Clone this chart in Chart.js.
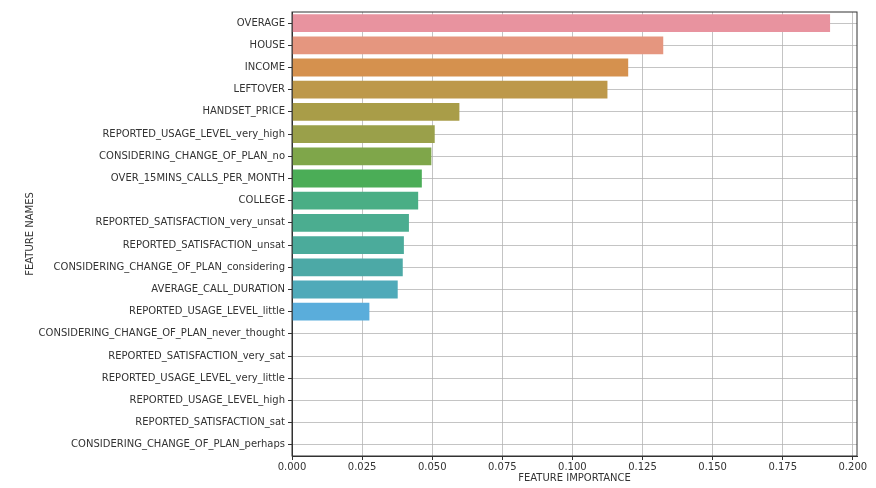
<!DOCTYPE html>
<html>
<head>
<meta charset="utf-8">
<script src="https://cdn.jsdelivr.net/npm/chart.js@4"></script>
<style>
  html, body { margin: 0; padding: 0; background: #fff; }
  #wrap { width: 876px; height: 488px; }
</style>
</head>
<body>
<div id="wrap"><canvas id="importanceChart"></canvas></div>
<script>
// feature importance
const features = [
    'OVERAGE', 'HOUSE', 'INCOME', 'LEFTOVER', 'HANDSET_PRICE',
    'REPORTED_USAGE_LEVEL_very_high', 'CONSIDERING_CHANGE_OF_PLAN_no',
    'OVER_15MINS_CALLS_PER_MONTH', 'COLLEGE', 'REPORTED_SATISFACTION_very_unsat',
    'REPORTED_SATISFACTION_unsat', 'CONSIDERING_CHANGE_OF_PLAN_considering',
    'AVERAGE_CALL_DURATION', 'REPORTED_USAGE_LEVEL_little',
    'CONSIDERING_CHANGE_OF_PLAN_never_thought', 'REPORTED_SATISFACTION_very_sat',
    'REPORTED_USAGE_LEVEL_very_little', 'REPORTED_USAGE_LEVEL_high',
    'REPORTED_SATISFACTION_sat', 'CONSIDERING_CHANGE_OF_PLAN_perhaps'
];
const importance = [
    0.1919, 0.1324, 0.1199, 0.1125, 0.0597,
    0.0509, 0.0497, 0.0463, 0.0450, 0.0417,
    0.0399, 0.0395, 0.0377, 0.0276,
    0, 0, 0, 0, 0, 0
];
const barColors = [
    '#e8939f', '#e5967f', '#d5914e', '#bd984a', '#a99d48',
    '#9aa04a', '#7fa64a', '#4bad57', '#4aae85', '#4bad90',
    '#4bab9b', '#4ca9a6', '#4faab9', '#5aaddb',
    '#8ab0e8', '#a8a4e8', '#c19be8', '#d98fe0', '#e58dc8', '#e890b3'
];
const xTicks = [0, 0.025, 0.05, 0.075, 0.1, 0.125, 0.15, 0.175, 0.2];

const FONT = 'DejaVu Sans';

// matplotlib keeps a frame on all four sides
const framePlugin = {
    id: 'frame',
    afterDraw(chart) {
        const { ctx, chartArea: a } = chart;
        ctx.save();
        ctx.strokeStyle = '#333';
        ctx.lineWidth = 1;
        ctx.strokeRect(a.left, a.top, a.right - a.left, a.bottom - a.top);
        ctx.restore();
    }
};

const ctx = document.getElementById('importanceChart').getContext('2d');
new Chart(ctx, {
    type: 'bar',
    data: {
        labels: features,
        datasets: [{
            data: importance,
            backgroundColor: barColors,
            borderWidth: 0,
            barPercentage: 0.8,
            categoryPercentage: 1
        }]
    },
    options: {
        indexAxis: 'y',
        responsive: true,
        maintainAspectRatio: false,
        animation: false,
        layout: { padding: { top: 12, right: 19, left: 0, bottom: 4 } },
        plugins: {
            legend: { display: false },
            tooltip: { enabled: false }
        },
        scales: {
            x: {
                type: 'linear',
                min: 0,
                max: 0.2015,
                z: 1,
                afterFit: s => { s.height = 28; },
                afterBuildTicks: s => { s.ticks = xTicks.map(v => ({ value: v })); },
                ticks: {
                    font: { family: FONT, size: 10 },
                    color: '#333',
                    padding: 1,
                    maxRotation: 0,
                    callback: v => Number(v).toFixed(3)
                },
                grid: { color: 'rgba(176,176,176,0.75)', lineWidth: 1, tickLength: 4, tickColor: '#333' },
                border: { color: '#333' },
                title: {
                    display: true,
                    text: 'FEATURE IMPORTANCE',
                    font: { family: FONT, size: 10 },
                    color: '#333',
                    padding: { top: 1, bottom: 0 }
                }
            },
            y: {
                z: 1,
                afterFit: s => { s.width = 292; },
                ticks: {
                    font: { family: FONT, size: 10 },
                    color: '#333',
                    padding: 3,
                    autoSkip: false
                },
                grid: { offset: false, color: 'rgba(176,176,176,0.75)', lineWidth: 1, tickLength: 4, tickColor: '#333' },
                border: { color: '#333' },
                title: {
                    display: true,
                    text: 'FEATURE NAMES',
                    font: { family: FONT, size: 10 },
                    color: '#333',
                    padding: { top: 24, bottom: 0 }
                }
            }
        }
    },
    plugins: [framePlugin]
});
</script>
</body>
</html>
